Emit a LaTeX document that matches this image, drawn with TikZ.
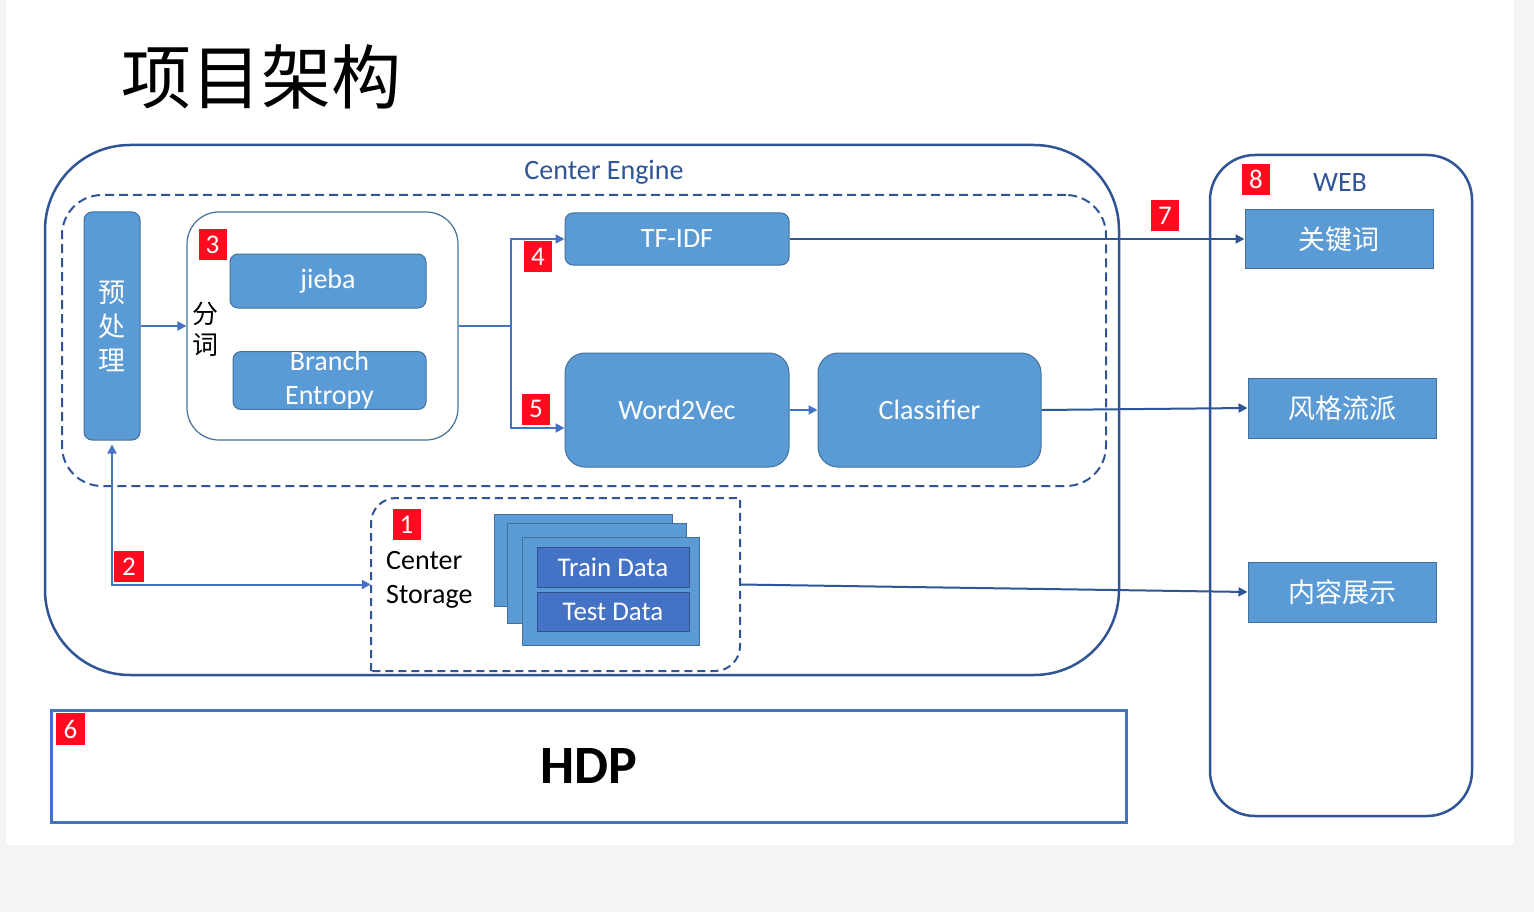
\documentclass[tikz,border=0pt]{standalone}
\usepackage{fontspec}
\setmainfont{Carlito}
\newfontfamily\cjk{Noto Sans CJK SC}
\usetikzlibrary{arrows.meta,calc}
\definecolor{dblue}{HTML}{2F5597}
\definecolor{mblue}{HTML}{4472C4}
\definecolor{bfill}{HTML}{5B9BD5}
\definecolor{bborder}{HTML}{41719C}
\definecolor{dfill}{HTML}{4472C4}
\definecolor{dborder}{HTML}{2F528F}
\definecolor{lred}{HTML}{FF0A1E}
\definecolor{bggray}{HTML}{F4F4F4}
\begin{document}
\begin{tikzpicture}[x=1pt,y=-1pt,
  box/.style={draw=bborder, fill=bfill, line width=1pt, text=white, inner sep=0pt, font=\fontsize{28}{34}\selectfont},
  lbl/.style={fill=lred, text=white, inner sep=0pt, minimum width=28pt, minimum height=31pt, font=\fontsize{27}{30}\selectfont},
  arr/.style={draw=mblue, line width=2pt, -{Triangle[length=9pt,width=9pt]}},
  darr/.style={draw=dblue, line width=2pt, -{Triangle[length=9pt,width=9pt]}},
  frame/.style={draw=dblue, line width=2.5pt, inner sep=0pt},
]
\useasboundingbox (0,0) rectangle (1534,912);
\fill[bggray] (0,0) rectangle (1534,912);
\fill[white] (6,0) rectangle (1514,845);

% title
\node[font=\cjk\fontsize{70}{80}\selectfont, inner sep=0pt] (title) at (261,77) {项目架构};

% containers
\node[frame, rounded corners=85pt, minimum width=1074pt, minimum height=530pt] (engine) at (582,410) {};
\node[text=dblue, font=\fontsize{28}{34}\selectfont, inner sep=0pt] (englbl) at (604,172.5) {Center Engine};
\node[draw=dblue, line width=2pt, dash pattern=on 9pt off 5pt, rounded corners=40pt, minimum width=1044pt, minimum height=291pt, inner sep=0pt] (inner) at (584,340.5) {};

\node[frame, rounded corners=45pt, minimum width=262pt, minimum height=661pt] (web) at (1341,485.5) {};
\node[text=dblue, font=\fontsize{28}{34}\selectfont, inner sep=0pt] (weblbl) at (1340,183) {WEB};

\node[draw=mblue, line width=3pt, minimum width=1075pt, minimum height=112pt, inner sep=0pt, font=\bfseries\fontsize{54}{60}\selectfont] (hdp) at (588.5,766) {HDP};

% preprocessing
\node[box, rounded corners=8pt, minimum width=56pt, minimum height=228pt, align=center, font=\cjk\fontsize{27}{34}\selectfont] (pre) at (112,326) {预\\处\\理};

% segmentation
\node[draw=bborder, line width=1.2pt, fill=white, rounded corners=32pt, minimum width=271pt, minimum height=228pt, inner sep=0pt] (fenci) at (322.5,326) {};
\node[font=\cjk\fontsize{26}{31}\selectfont, align=center, inner sep=0pt] (fencilbl) at (205,329) {分\\词};
\node[box, rounded corners=8pt, minimum width=196pt, minimum height=54pt] (jieba) at (328,281) {jieba};
\node[box, rounded corners=8pt, minimum width=193pt, minimum height=55pt, align=center] (branch) at (329.5,380.5) {\raisebox{-3pt}{Branch}\\\raisebox{-3pt}{Entropy}};

% models
\node[box, rounded corners=8pt, minimum width=224pt, minimum height=52pt] (tfidf) at (677,239) {TF-IDF};
\node[box, rounded corners=20pt, minimum width=224pt, minimum height=114pt] (w2v) at (677,410) {Word2Vec};
\node[box, rounded corners=20pt, minimum width=223pt, minimum height=114pt] (cls) at (929.5,410) {Classifier};

% storage
\node[minimum width=369pt, minimum height=173pt, inner sep=0pt] (stor) at (555.5,584.5) {};
\draw[draw=dblue, line width=2pt, dash pattern=on 8pt off 5pt]
  (371,671) -- (371,523) .. controls (371,509.2) and (382.2,498) .. (396,498)
  -- (740,498) -- (740,646) .. controls (740,659.8) and (728.8,671) .. (715,671) -- cycle;
\node[anchor=west, align=left, inner sep=0pt, font=\fontsize{28}{34}\selectfont] (storlbl) at (386,580) {Center\\Storage};
\draw[draw=bborder, fill=bfill, line width=1pt] (494,514) rectangle (672,606);
\draw[draw=bborder, fill=bfill, line width=1pt] (507,523) rectangle (686,623);
\draw[draw=bborder, fill=bfill, line width=1pt] (522,537) rectangle (699,645);
\node[box, draw=dborder, fill=dfill, minimum width=152pt, minimum height=40pt, font=\fontsize{27}{32}\selectfont] (train) at (613,567) {Train Data};
\node[box, draw=dborder, fill=dfill, minimum width=152pt, minimum height=39pt, font=\fontsize{27}{32}\selectfont] (test) at (613,611.5) {Test Data};

% web boxes
\node[box, minimum width=188pt, minimum height=58pt, font=\cjk\fontsize{27}{32}\selectfont] (gjc) at (1339,239) {关键词};
\node[box, minimum width=188pt, minimum height=60pt, font=\cjk\fontsize{27}{32}\selectfont] (fg) at (1342,408) {风格流派};
\node[box, minimum width=188pt, minimum height=60pt, font=\cjk\fontsize{27}{32}\selectfont] (nr) at (1342,592) {内容展示};

% connectors
\draw[arr] (pre.east) -- (fenci.west);
\coordinate (split) at (511,326);
\draw[arr] (fenci.east) -- (split) |- (tfidf.west);
\draw[arr] (split) |- ($(w2v.west)+(0,18)$);
\draw[arr] (w2v.east) -- (cls.west);
\draw[darr] (tfidf.east) -- (gjc.west);
\draw[darr] (cls.east) -- (fg.west);
\draw[darr] (stor.east) -- (nr.west);
\draw[draw=mblue, line width=2pt, {Triangle[length=9pt,width=9pt]}-{Triangle[length=9pt,width=9pt]}, shorten <=4pt] (pre.south) |- (stor.west);

% numbered labels
\node[lbl] (l1) at (406.5,524.5) {1};
\node[lbl, minimum width=30pt] (l2) at (129,566.5) {2};
\node[lbl] (l3) at (212.5,244.5) {3};
\node[lbl] (l4) at (538,256.5) {4};
\node[lbl] (l5) at (536,409) {5};
\node[lbl, minimum width=29pt, minimum height=32pt] (l6) at (70.5,729) {6};
\node[lbl] (l7) at (1165,216) {7};
\node[lbl] (l8) at (1256,179.5) {8};
\end{tikzpicture}
\end{document}
